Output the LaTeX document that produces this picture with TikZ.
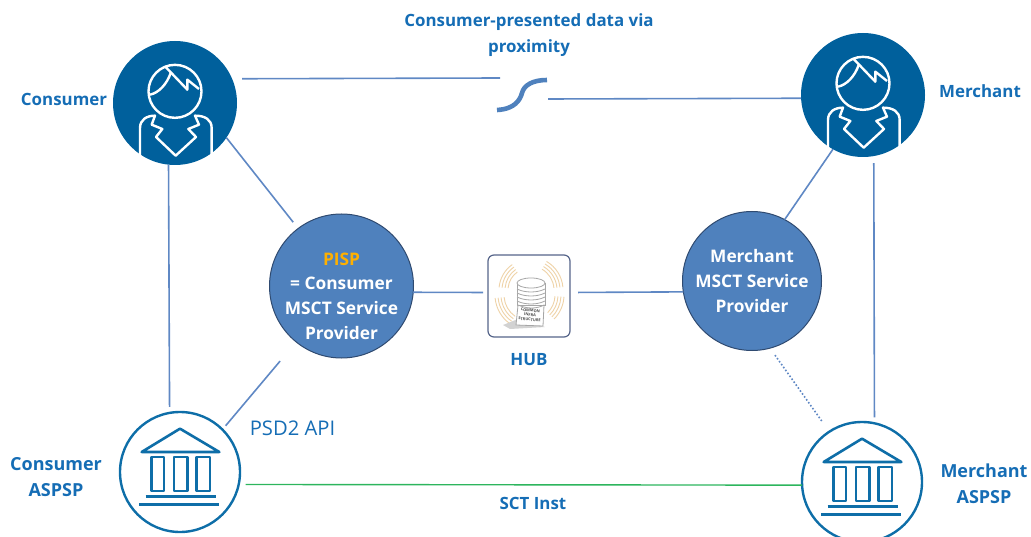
\documentclass[tikz,border=0pt]{standalone}
\usepackage{fontspec}
\setmainfont{Open Sans}
\definecolor{iconblue}{HTML}{00609C}
\definecolor{bankblue}{HTML}{0E6EA8}
\definecolor{linkblue}{HTML}{5F88C4}
\definecolor{discblue}{HTML}{4F81BD}
\definecolor{discedge}{HTML}{2F4A70}
\definecolor{labelblue}{HTML}{156DB5}
\definecolor{linkgreen}{HTML}{2DB55D}
\definecolor{waveorange}{HTML}{EFD3A8}
\definecolor{hubframe}{HTML}{56658A}
\definecolor{pispgold}{HTML}{FFB000}
\tikzset{
  x=1pt,y=-1pt,
  persondisc/.style={circle,fill=iconblue,minimum size=124pt,inner sep=0pt,outer sep=0pt},
  bankdisc/.style={circle,draw=bankblue,line width=2.4pt,fill=white,minimum size=120pt,inner sep=0pt,outer sep=0pt},
  servicedisc/.style={circle,draw=discedge,line width=1pt,fill=discblue,inner sep=0pt,outer sep=0pt},
  servicetxt/.style={text=white,font=\fontsize{17.3}{24.6}\selectfont\bfseries,align=center,inner sep=0pt},
  hubbox/.style={draw=hubframe,line width=1.2pt,rounded corners=6pt,minimum width=82pt,minimum height=82pt,inner sep=0pt,outer sep=0pt,fill=white},
  txt/.style={text=labelblue,font=\fontsize{16.9}{26}\selectfont\bfseries,align=center,inner sep=0pt},
  banktxt/.style={text=labelblue,font=\fontsize{18}{26}\selectfont\bfseries,align=center,inner sep=0pt},
  link/.style={draw=linkblue,line width=1.6pt},
  wave/.style={draw=waveorange,line width=.9pt},
  stack/.style={draw=gray!70,line width=.8pt,fill=white},
  person/.pic={
    \begin{scope}[x=.3333pt,y=-.3333pt,draw=white,line width=2.4pt,line join=round]
      \draw (0,-35) circle[radius=26.5pt];
      \draw (-30,-110) -- (37,-40) -- (37,-70) -- (72,-42);
      \draw (-13,-90) .. controls (-25,-55) and (-50,-30) .. (-75,-25);
      \draw (-105,160) -- (-105,75) .. controls (-105,50) and (-85,38) .. (-60,38)
        -- (-70,65) -- (-38,78) -- (-57,102) -- (2,158) -- (63,102) -- (40,78) -- (72,65) -- (60,38)
        .. controls (90,38) and (110,50) .. (110,75) -- (110,155);
    \end{scope}
  },
  bank/.pic={
    \begin{scope}[x=.3333pt,y=-.3333pt,draw=bankblue,line width=2.6pt,line join=round]
      \draw (-115,-60) -- (0,-130) -- (118,-60) -- cycle;
      \draw (-85,-45) rectangle (-48,57);
      \draw (-18,-45) rectangle (22,57);
      \draw (50,-45) rectangle (90,57);
      \draw (-103,73) -- (107,73);
      \draw (-122,97) -- (118,97);
    \end{scope}
  },
}
\begin{document}
\begin{tikzpicture}
\useasboundingbox (0,0) rectangle (1031,537);
% nodes
\node[persondisc] (consumer) at (175,103) {};
\node[persondisc] (merchant) at (863,95) {};
\node[bankdisc] (cbank) at (180,472) {};
\node[bankdisc] (mbank) at (862,482) {};
\node[servicedisc,minimum size=144pt] (pisp) at (341.5,286) {};
\node[servicetxt] (pisptxt) at (341.5,296) {{\color{pispgold}PISP}\\= Consumer\\MSCT Service\\Provider};
\node[servicedisc,minimum size=139pt,servicetxt] (msp) at (752,281) {Merchant\\MSCT Service\\Provider};
\node[hubbox] (hub) at (529,296) {};
\pic at (consumer) {person};
\pic at (merchant) {person};
\pic at (cbank) {bank};
\pic at (mbank) {bank};
% squiggle
\coordinate (gapleft) at (500,78);
\coordinate (gapright) at (548,99);
\coordinate (sqa) at (497,110);
\coordinate (sqb) at (547,80);
\draw[draw=discblue,line width=4.6pt] (sqa) .. controls (515,109) and (520,100) .. (522,93) .. controls (524,85) and (533,80) .. (sqb);
% connectors
\draw[link,shorten <=10pt] (consumer.23.8) -- (gapleft);
\draw[link] (gapright) -- (merchant.183.7);
\draw[link,shorten >=8pt] (consumer.-34) -- (pisp.127);
\draw[link,shorten >=6pt] (consumer.-96) -- (cbank.100);
\draw[link,shorten <=25pt,shorten >=5pt] (pisp.231.9) -- (cbank.45);
\draw[link,shorten >=5pt] (pisp.-5.5) -- ([yshift=3.5pt]hub.west);
\draw[link,shorten <=8pt] ([yshift=3.5pt]hub.east) -- (msp.189);
\draw[link] (merchant.241.8) -- (msp.62.7);
\draw[link,shorten <=7pt,shorten >=6pt] (merchant.-80) -- (mbank.78.5);
\draw[link,dotted,shorten <=8.6pt,shorten >=12pt] (msp.-75) -- (mbank.123.7);
\draw[draw=linkgreen,line width=1.4pt,shorten <=7pt] (cbank.-12.5) -- (mbank.183);
% hub pictogram
\foreach \cx/\cy/\sa/\ea/\ra in {530/290/125/175/22,530/295/185/235/26,530/290/5/60/24,530/295/-45/-3/25}{
  \foreach \st in {0,3,6,9}{
    \pgfmathsetmacro{\rr}{\ra+\st}
    \draw[wave] (\cx,\cy) ++(\sa:\rr pt) arc[start angle=\sa,end angle=\ea,radius=\rr pt];
  }
}
\fill[gray!35] (503,325) -- (518,319) -- (545,327) -- (510,329) -- cycle;
\draw[stack] (517,283) -- (517,305) -- (545,305) -- (545,283);
\foreach \yy in {289,293,297,301}{
  \draw[stack] (517,\yy) .. controls (525,\yy+4) and (537,\yy+4) .. (545,\yy);
}
\draw[stack] (531,283) ellipse[x radius=14pt,y radius=5pt];
\draw[stack,fill=white] (518,305) .. controls (527,309) and (537,309) .. (544,305) -- (543,326) -- (516,325) -- cycle;
\node[rotate=-5,text=black!70,font=\fontsize{3.9}{4.6}\selectfont\bfseries,align=center,inner sep=0pt] (hubtext) at (530,315) {COMMON\\INFRA\\STRUCTURE};
% labels
\node[txt] (lconsumer) at (64,99) {Consumer};
\node[txt] (lmerchant) at (980,91) {Merchant};
\node[banktxt] (lcbank) at (56,477.5) {Consumer\\ASPSP};
\node[banktxt] (lmbank) at (984,484) {Merchant\\ASPSP};
\node[txt] (ltop) at (529,35) {Consumer-presented data via\\proximity};
\node[txt] (lhub) at (529,360) {HUB};
\node[txt] (lsct) at (533,503) {SCT Inst};
\node[text=labelblue,font=\fontsize{20.2}{24}\selectfont,inner sep=0pt] (lpsd) at (292.5,428) {PSD2 API};
\end{tikzpicture}
\end{document}
